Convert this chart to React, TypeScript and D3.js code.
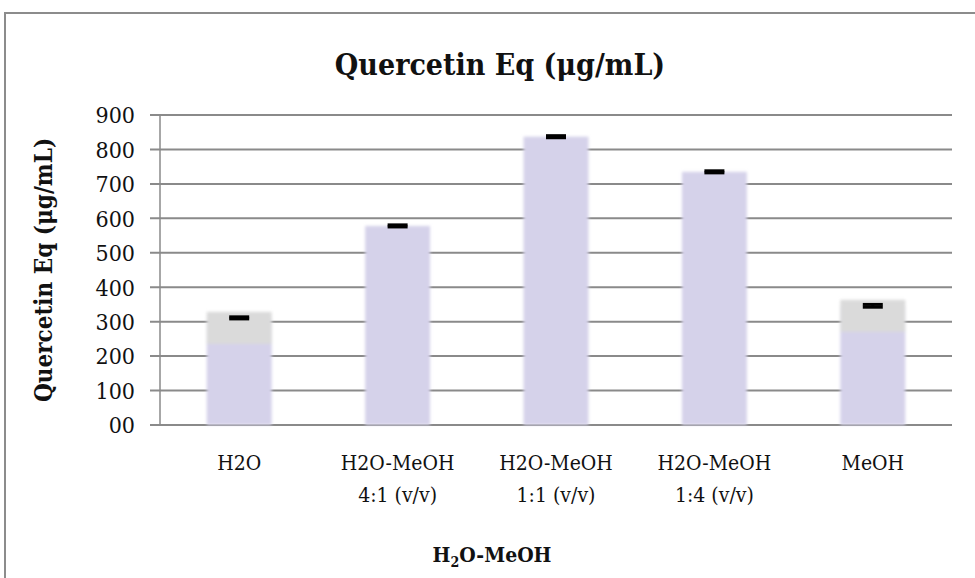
import React from "react";
import * as d3 from "d3";

// chart data
const categories = ["H2O", "H2O-MeOH\n4:1 (v/v)", "H2O-MeOH\n1:1 (v/v)", "H2O-MeOH\n1:4 (v/v)", "MeOH"];
const values = [311, 578, 837, 735, 346];
const errors = [3, 3, 3, 3, 4];
const greyTop = [true, false, false, false, true]; // the faded grey cap seen on two bars
const yTicks = [0, 100, 200, 300, 400, 500, 600, 700, 800, 900];
const yTickLabels = ["00", "100", "200", "300", "400", "500", "600", "700", "800", "900"];

const width = 975;
const height = 578;
const margin = { top: 115, right: 23, bottom: 153, left: 160 };
const font = "'DejaVu Serif Condensed', 'DejaVu Serif', serif";

export default function App() {
  const x = d3
    .scaleBand<string>()
    .domain(categories)
    .range([margin.left, width - margin.right])
    .paddingInner(0.59)
    .paddingOuter(0.295);

  const y = d3
    .scaleLinear()
    .domain([0, 900])
    .range([height - margin.bottom, margin.top]);

  const x0 = margin.left;
  const x1 = width - margin.right;
  const grid = "#8a8a8a";

  return (
    <svg
      width={width}
      height={height}
      style={{ position: "absolute", left: 0, top: 0, background: "#fff" }}
    >
      <defs>
        <filter id="soft" x="-20%" y="-20%" width="140%" height="140%">
          <feGaussianBlur stdDeviation="1.8" />
        </filter>
      </defs>

      {/* outer frame */}
      <path d={`M${width},13H5V${height}`} fill="none" stroke="#8c8c8c" strokeWidth={2} />

      <text
        x={500}
        y={75}
        textAnchor="middle"
        fontFamily={font}
        fontStretch="condensed"
        fontWeight="bold"
        fontSize={30}
        fill="#111"
      >
        Quercetin Eq (μg/mL)
      </text>

      {/* gridlines + ticks */}
      {yTicks.map((t) => (
        <line
          key={t}
          x1={x0 - 10}
          x2={x1}
          y1={y(t)}
          y2={y(t)}
          stroke={grid}
          strokeWidth={2}
        />
      ))}
      <line x1={x0} x2={x0} y1={y(900)} y2={y(0)} stroke={grid} strokeWidth={1.5} />

      {/* bars */}
      <g filter="url(#soft)">
        {values.map((v, i) => {
          const bx = x(categories[i])!;
          const bw = x.bandwidth();
          const cap = Math.min(26, y(0) - y(v));
          return (
            <g key={i}>
              <rect x={bx} y={y(v)} width={bw} height={y(0) - y(v)} fill="#d5d2ea" />
              {greyTop[i] && (
                <rect x={bx} y={y(v) - 6} width={bw} height={cap + 6} fill="#dadada" />
              )}
            </g>
          );
        })}
      </g>

      {/* error bars: caps at value ± error, merged into one dark blob */}
      {values.map((v, i) => {
        const cx = x(categories[i])! + x.bandwidth() / 2;
        return (
          <g key={i} stroke="#000" strokeWidth={3}>
            <line x1={cx - 10} x2={cx + 10} y1={y(v + errors[i])} y2={y(v + errors[i])} />
            <line x1={cx - 10} x2={cx + 10} y1={y(v - errors[i])} y2={y(v - errors[i])} />
            <line x1={cx} x2={cx} y1={y(v + errors[i])} y2={y(v - errors[i])} />
          </g>
        );
      })}

      {/* y tick labels */}
      {yTicks.map((t, i) => (
        <text
          key={t}
          x={135}
          y={y(t)}
          dy="0.36em"
          textAnchor="end"
          fontFamily={font}
          fontStretch="condensed"
          fontSize={23}
          fill="#111"
        >
          {yTickLabels[i]}
        </text>
      ))}

      {/* x category labels */}
      {categories.map((c) => {
        const cx = x(c)! + x.bandwidth() / 2;
        return (
          <text
            key={c}
            textAnchor="middle"
            fontFamily={font}
            fontStretch="condensed"
            fontSize={21}
            fill="#111"
          >
            {c.split("\n").map((line, j) => (
              <tspan key={j} x={cx} y={470 + j * 32}>
                {line}
              </tspan>
            ))}
          </text>
        );
      })}

      {/* axis titles */}
      <text
        transform={`translate(52,${(y(0) + y(900)) / 2}) rotate(-90)`}
        textAnchor="middle"
        fontFamily={font}
        fontStretch="condensed"
        fontWeight="bold"
        fontSize={24}
        fill="#111"
      >
        Quercetin Eq (μg/mL)
      </text>
      <text
        x={492}
        y={562}
        textAnchor="middle"
        fontFamily={font}
        fontStretch="condensed"
        fontWeight="bold"
        fontSize={21}
        fill="#111"
      >
        H<tspan dy={5} fontSize={14}>2</tspan>
        <tspan dy={-5}>O-MeOH</tspan>
      </text>
    </svg>
  );
}
